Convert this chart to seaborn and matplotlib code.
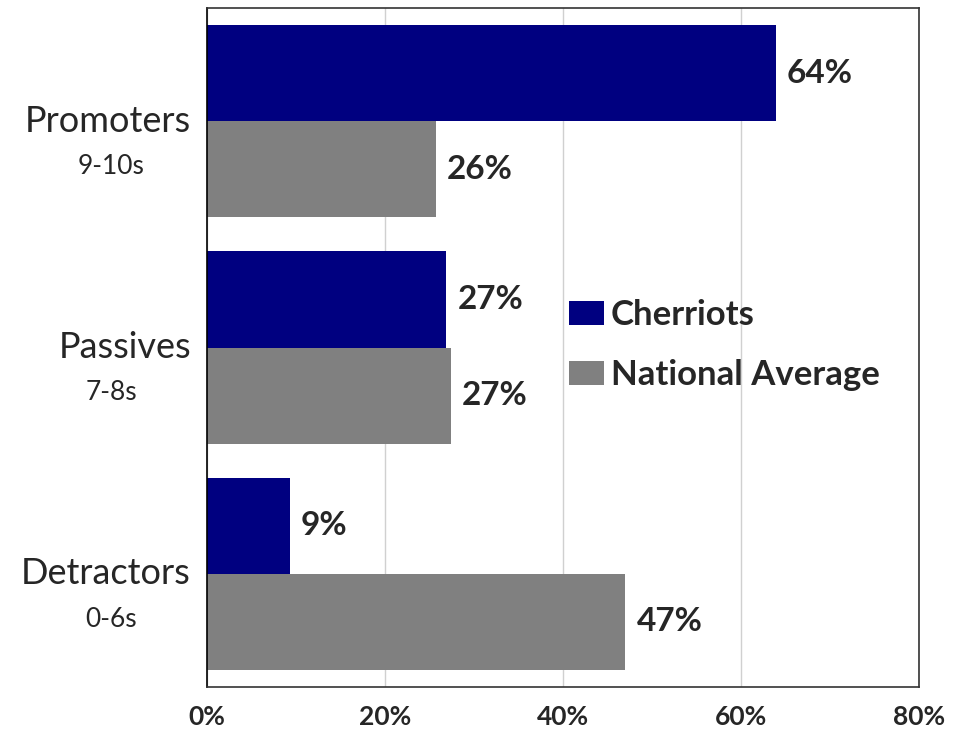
import pandas as pd
import matplotlib
matplotlib.use('Agg')
import matplotlib.pyplot as plt
import matplotlib.transforms as mtransforms
import seaborn as sns

# Data
kategori = ['Promoters', 'Passives', 'Detractors']
sub_label = ['9-10s', '7-8s', '0-6s']
cherriots = [63.9, 26.9, 9.3]
national = [25.7, 27.4, 47.0]
seri = ['Cherriots', 'National Average']
warna = ['#000080', '#808080']
xticks = [0, 20, 40, 60, 80]

data = pd.DataFrame({
    'Kategori': kategori * 2,
    'Seri': [seri[0]] * 3 + [seri[1]] * 3,
    'Nilai': cherriots + national,
})

sns.set_style('white')
plt.rcParams['font.family'] = ['Lato', 'DejaVu Sans']

fig = plt.figure(figsize=(9.61, 7.29), dpi=100)
ax = fig.add_axes([207 / 961, 1 - 687 / 729, (919 - 207) / 961, (687 - 8) / 729])

sns.barplot(data=data, x='Nilai', y='Kategori', hue='Seri', order=kategori,
            hue_order=seri, palette=warna, orient='h', width=0.85,
            saturation=1, linewidth=0, ax=ax, zorder=2)

ax.set_xlim(0, 80)
ax.set_ylim(2.5, -0.5)
ax.set_xticks(xticks)
ax.set_xticklabels([f'{t}%' for t in xticks], fontsize=19, fontweight='bold')
ax.tick_params(axis='x', length=0, pad=13)
ax.set_yticks([])
ax.set_xlabel('')
ax.set_ylabel('')
ax.grid(axis='x', color='#d0d0d0', linewidth=1, zorder=0)
ax.set_axisbelow(True)
for s in ax.spines.values():
    s.set_color('#333333')
    s.set_linewidth(1.2)
ax.spines['left'].set_color('black')

# Label nilai di ujung batang
for cont in ax.containers:
    ax.bar_label(cont, labels=[f'{v:.0f}%' for v in cont.datavalues],
                 padding=8, fontsize=24, fontweight='bold')

# Label kategori dua baris
trans = mtransforms.blended_transform_factory(fig.transFigure, ax.transData)
for i, (k, s) in enumerate(zip(kategori, sub_label)):
    ax.text(191 / 961, i, k, transform=trans, ha='right', va='center', fontsize=26)
    ax.text(111 / 961, i + 0.2, s, transform=trans, ha='center', va='center', fontsize=19)

# Legenda
leg = ax.legend(loc='center left', bbox_to_anchor=(538 / 961, 1 - 345 / 729),
                bbox_transform=fig.transFigure, frameon=False, fontsize=25,
                handlelength=1.0, handleheight=0.7, handletextpad=0.2,
                labelspacing=0.8, title=None)
for t in leg.get_texts():
    t.set_fontweight('bold')

plt.savefig('out.png', dpi=100)
